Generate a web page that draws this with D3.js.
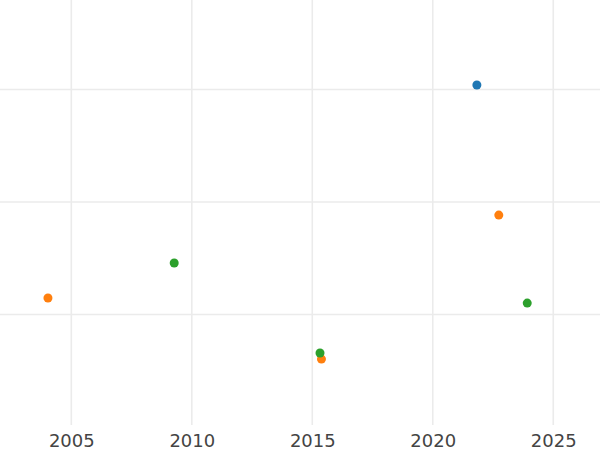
<!DOCTYPE html>
<html>
<head>
<meta charset="utf-8">
<script src="https://cdn.jsdelivr.net/npm/d3@7"></script>
<style>
  html, body { margin: 0; padding: 0; background: #fff; }
  svg { display: block; }
</style>
</head>
<body>
<svg id="chart" width="600" height="450"></svg>
<script>
const xTicks = [2005, 2010, 2015, 2020, 2025];
const yTicks = [10, 20, 30];
const seriesNames = ["A", "B", "C"];
const seriesColors = ["#1f77b4", "#ff7f0e", "#2ca02c"];
const seriesA_x = [2021.83];
const seriesA_y = [30.4];
const seriesB_x = [2004.03, 2015.38, 2022.74];
const seriesB_y = [11.47, 6.04, 18.84];
const seriesC_x = [2009.27, 2015.32, 2023.92];
const seriesC_y = [14.58, 6.58, 11.02];

const W = 600, H = 450;
const plotBottom = 425;
const svg = d3.select("#chart");

const x = d3.scaleLinear().domain([2002.04, 2026.94]).range([0, W]);
const y = d3.scaleLinear().domain([0.18, 37.96]).range([plotBottom, 0]);

// grid
const grid = svg.append("g");
grid.selectAll("line.v").data(xTicks).join("line")
  .attr("class", "v")
  .attr("x1", d => x(d)).attr("x2", d => x(d))
  .attr("y1", 0).attr("y2", plotBottom)
  .attr("stroke", "#ebebeb").attr("stroke-width", 1.6);
grid.selectAll("line.h").data(yTicks).join("line")
  .attr("class", "h")
  .attr("x1", 0).attr("x2", W)
  .attr("y1", d => y(d)).attr("y2", d => y(d))
  .attr("stroke", "#ebebeb").attr("stroke-width", 1.6);

// x axis labels
const xAxis = d3.axisBottom(x).tickValues(xTicks).tickFormat(d3.format("d")).tickSize(0).tickPadding(0);
const gx = svg.append("g").attr("transform", `translate(0,${plotBottom})`).call(xAxis);
gx.select(".domain").remove();
gx.selectAll("text")
  .attr("y", 22).attr("dy", 0)
  .attr("fill", "#444")
  .style("font-family", "DejaVu Sans, sans-serif")
  .style("font-size", "18px");

// points
const series = [
  { name: seriesNames[0], color: seriesColors[0], xs: seriesA_x, ys: seriesA_y },
  { name: seriesNames[1], color: seriesColors[1], xs: seriesB_x, ys: seriesB_y },
  { name: seriesNames[2], color: seriesColors[2], xs: seriesC_x, ys: seriesC_y }
];
const pts = svg.append("g");
series.forEach(s => {
  const data = s.xs.map((v, i) => ({ x: v, y: s.ys[i] }));
  pts.append("g").selectAll("circle").data(data).join("circle")
    .attr("cx", d => x(d.x)).attr("cy", d => y(d.y))
    .attr("r", 4.5).attr("fill", s.color);
});
</script>
</body>
</html>
